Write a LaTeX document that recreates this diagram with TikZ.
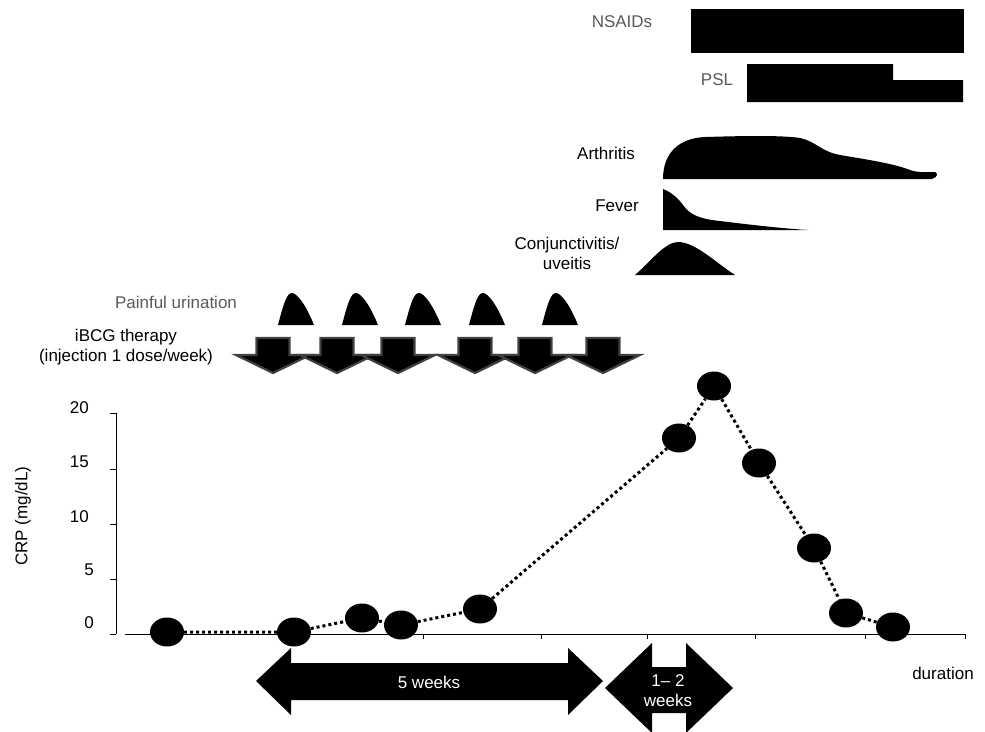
\documentclass[tikz,border=0pt]{standalone}
\usepackage{fontspec}
\setmainfont{Liberation Sans}
\usetikzlibrary{shapes.geometric}
\definecolor{labelgray}{RGB}{89,89,89}
\definecolor{arrowedge}{RGB}{64,64,64}

\begin{document}
\begin{tikzpicture}[x=1pt,y=-1pt,
  lbl/.style={font=\fontsize{17}{20}\selectfont, inner sep=0pt, align=center},
  greylbl/.style={lbl, text=labelgray},
  crp/.style={ellipse, fill=black, minimum width=34pt, minimum height=29pt, inner sep=0pt},
  crpline/.style={line width=3pt, dash pattern=on 3pt off 3pt},
  bcgarrow/.style={fill=black, draw=arrowedge, line width=2.2pt, line join=miter},
  weekspan/.style={fill=black}]

\useasboundingbox (0,0) rectangle (985,731);

%draws treatment bars
\node[greylbl] (nsaids) at (622,22) {NSAIDs};
\fill (691,9) rectangle (964,53);
\node[greylbl] (psl) at (717,80) {PSL};
\fill (747,64) -- (893,64) -- (893,80) -- (963,80) -- (963,102) -- (747,102) -- cycle;

%draws symptoms
\node[lbl] (arthritis) at (606,153) {Arthritis};
\fill (663,179) .. controls (663,152) and (680,138) .. (705,137)
  .. controls (740,136) and (780,135) .. (800,138)
  .. controls (815,141) and (822,152) .. (840,155)
  .. controls (870,160) and (895,164) .. (910,170)
  .. controls (918,173) and (928,172) .. (935,172)
  .. controls (938,173) and (938,177) .. (932,179) -- cycle;
\node[lbl] (fever) at (617,206) {Fever};
\fill (663,189) .. controls (671,192) and (678,198) .. (683,205)
  .. controls (690,215) and (700,219) .. (720,221)
  .. controls (760,226) and (790,229) .. (808,230) -- (663,230) -- cycle;
\node[lbl] (conj) at (567,253) {Conjunctivitis/\\uveitis};
\fill (635,275) .. controls (650,262) and (665,242) .. (678,242)
  .. controls (695,242) and (715,262) .. (735,275) -- cycle;

%draws painful urination and iBCG doses
\node[greylbl] (urination) at (176,302) {Painful urination};
\foreach \x in {296,360,423,487,560}
  \fill (\x-18,325) .. controls (\x-12,302) and (\x-9,293) .. (\x-4,293)
    .. controls (\x+1,293) and (\x+10,305) .. (\x+18,325) -- cycle;
\node[lbl] (ibcg) at (126,347) {iBCG therapy\\(injection 1 dose/week)};
\foreach \x in {273,337,398,475,535,603}
  \draw[bcgarrow] (\x-16.5,338) -- (\x+16.5,338) -- (\x+16.5,355) -- (\x+37,355)
    -- (\x,373) -- (\x-37,355) -- (\x-16.5,355) -- cycle;

%draw axes
\draw[line width=1pt] (116,413) -- (116,634);
\foreach \y in {413,469,524,579,634}
    \draw[line width=1pt] (110,\y) -- (116,\y);
\draw[line width=1pt] (125,634) -- (966,634);
\foreach \x in {292,423,541,647,755,865,965}
    \draw[line width=1pt] (\x,634) -- (\x,639);

%label axes
\foreach \v/\y/\r in {20/408/89,15/462/89,10/517/89,5/570/94,0/623/94}
    \node[lbl, anchor=east] (tick\v) at (\r,\y) {\v};
\node[lbl, rotate=90] (crplabel) at (23,516) {CRP (mg/dL)};
\node[lbl] (duration) at (943,673) {duration};

%draw CRP values
\node[crp] (p1) at (167,632) {};
\node[crp] (p2) at (294,632) {};
\node[crp] (p3) at (362,618) {};
\node[crp] (p4) at (401,625) {};
\node[crp] (p5) at (480,609) {};
\node[crp] (p6) at (679,438) {};
\node[crp] (p7) at (714,386) {};
\node[crp] (p8) at (759,463) {};
\node[crp] (p9) at (814,548) {};
\node[crp] (p10) at (846,613) {};
\node[crp] (p11) at (893,627) {};
\draw[crpline] (p1) -- (p2) -- (p3) -- (p4) -- (p5) -- (p6) -- (p7)
  -- (p8) -- (p9) -- (p10) -- (p11);

%draw time spans
\fill[weekspan] (256,681) -- (291,648) -- (291,663) -- (568,663) -- (568,648) -- (603,681)
  -- (568,715) -- (568,700) -- (291,700) -- (291,715) -- cycle;
\node[lbl, text=white] (fiveweeks) at (429,682) {5 weeks};
\fill[weekspan] (605,688) -- (652,643) -- (652,667) -- (686,667) -- (686,643) -- (733,688)
  -- (686,733) -- (686,713) -- (652,713) -- (652,733) -- cycle;
\node[lbl, text=white] (oneweeks) at (668,691) {1– 2\\weeks};
\end{tikzpicture}
\end{document}
